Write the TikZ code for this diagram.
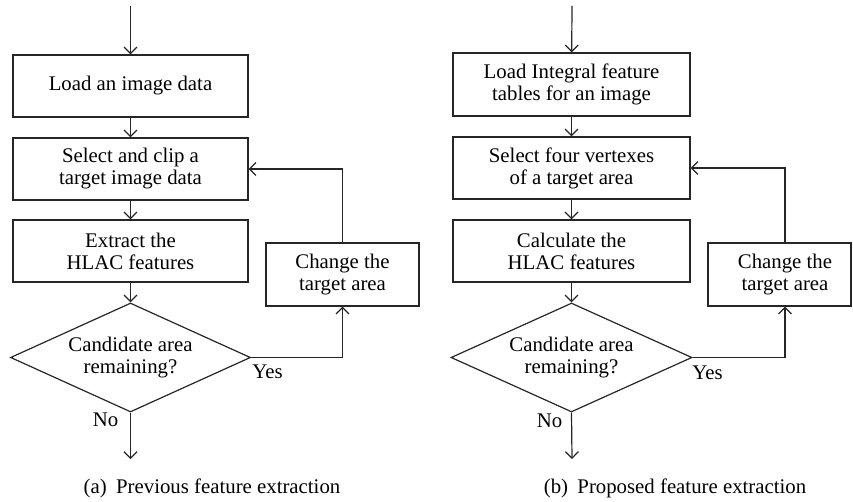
\documentclass[tikz,border=0pt]{standalone}
\usepackage{fontspec}
\setmainfont{Liberation Serif}
\usetikzlibrary{shapes.geometric,arrows.meta}
\begin{document}
\begin{tikzpicture}[x=1pt,y=-1pt,
  every node/.style={font=\fontsize{20.8}{22}\selectfont, text=black},
  box/.style={draw=black!85, line width=1.2pt, rectangle, minimum width=235pt, minimum height=62pt, align=center, inner sep=0pt},
  sbox/.style={draw=black!85, line width=1.2pt, rectangle, minimum width=153pt, minimum height=63pt, align=center, inner sep=0pt},
  dec/.style={draw=black!85, line width=1.2pt, diamond, aspect=2.2, minimum width=240pt, minimum height=109pt, align=center, inner sep=0pt},
  flow/.style={draw=black!85, line width=1.2pt, -{Straight Barb[length=6.5pt,width=13pt,line width=1.2pt]}},
  lbl/.style={inner sep=0pt}
]
\useasboundingbox (0,0) rectangle (853,502);
% ---------- (a) ----------
\coordinate (as) at (130.5,6);
\node[box] (a1) at (130.5,86) {Load an image data};
\node[box] (a2) at (130.5,169) {Select and clip a\\target image data};
\node[box] (a3) at (130.5,251) {Extract the\\HLAC features};
\node[dec] (ad) at (130.5,357.5) {Candidate area\\remaining?};
\node[sbox] (a4) at (342.5,274.5) {Change the\\target area};
\coordinate (ae) at (130.5,459);
\draw[flow] (as) -- (a1);
\draw[flow] (a1) -- (a2);
\draw[flow] (a2) -- (a3);
\draw[flow] (a3) -- (ad.north);
\draw[flow] (ad.east) -| (a4.south);
\draw[flow] (a4.north) |- (a2.east);
\draw[flow] (ad.south) -- (ae);
\node[lbl] (ay) at (267.5,371.5) {Yes};
\node[lbl] (an) at (105.5,420) {No};
\node[lbl] (acap) at (212,488) {(a)\hspace{0.45em}Previous feature extraction};
% ---------- (b) ----------
\coordinate (bs) at (572,6);
\node[box, minimum width=237pt, minimum height=63pt] (b1) at (571.5,84.5) {Load Integral feature\\tables for an image};
\node[box, minimum width=237pt] (b2) at (571.5,168) {Select four vertexes\\of a target area};
\node[box, minimum width=237pt] (b3) at (571.5,251) {Calculate the\\HLAC features};
\node[dec, minimum width=241pt] (bd) at (571.5,357.5) {Candidate area\\remaining?};
\node[sbox, minimum width=143pt] (b4) at (779.5,274.5) {\hspace*{11pt}Change the\\\hspace*{11pt}target area};
\coordinate (be) at (572,459);
\draw[flow] (bs) -- (b1);
\draw[flow] (b1) -- (b2);
\draw[flow] (b2) -- (b3);
\draw[flow] (b3) -- (bd.north);
\draw[flow] (bd.east) -| ([xshift=5.5pt]b4.south);
\draw[flow] ([xshift=5.5pt]b4.north) |- (b2.east);
\draw[flow] (bd.south) -- (be);
\node[lbl] (by) at (707.5,373) {Yes};
\node[lbl] (bn) at (549.5,421) {No};
\node[lbl] (bcap) at (675,488) {(b)\hspace{0.45em}Proposed feature extraction};
\end{tikzpicture}
\end{document}
